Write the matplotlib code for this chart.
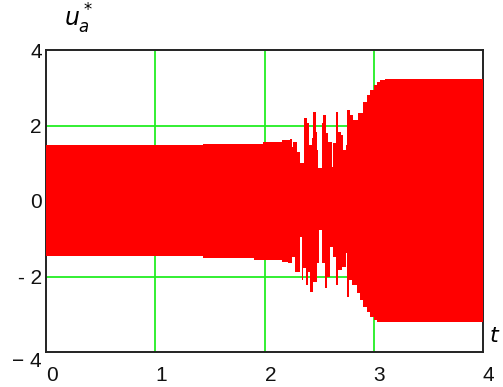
import numpy as np
import matplotlib.pyplot as plt

# envelope of the oscillation (step-wise)
t_up = [0, 1.44, 1.99, 2.157, 2.233, 2.249, 2.264, 2.294, 2.325, 2.365, 2.386, 2.41, 2.432,
        2.447, 2.471, 2.48, 2.493, 2.523, 2.538, 2.56, 2.584, 2.615, 2.63, 2.654, 2.676,
        2.697, 2.722, 2.746, 2.752, 2.783, 2.813, 2.859, 2.904, 2.935, 2.966, 3.0, 3.027,
        3.06, 3.103, 4.0]
u_up = [1.48, 1.50, 1.55, 1.62, 1.65, 1.44, 1.57, 1.31, 1.0, 2.19, 2.06, 1.48, 1.66,
        2.37, 1.84, 1.35, 0.87, 2.06, 2.28, 1.79, 1.57, 0.91, 1.53, 2.37, 1.84,
        1.75, 1.35, 1.48, 2.41, 2.28, 2.15, 2.32, 2.63, 2.80, 2.94, 3.06, 3.16,
        3.20, 3.22, 3.22]

t_lo = [0, 1.44, 1.90, 2.157, 2.218, 2.249, 2.279, 2.325, 2.34, 2.355, 2.38, 2.401, 2.416,
        2.441, 2.477, 2.50, 2.526, 2.554, 2.575, 2.60, 2.63, 2.654, 2.676, 2.706, 2.746,
        2.758, 2.77, 2.798, 2.844, 2.875, 2.904, 2.935, 2.966, 3.0, 3.027, 4.0]
u_lo = [-1.45, -1.52, -1.56, -1.61, -1.65, -1.48, -1.87, -0.95, -2.09, -1.78, -2.23, -1.87, -2.40,
        -2.14, -1.65, -0.77, -1.65, -2.31, -2.0, -1.21, -1.48, -2.23, -1.83, -1.74, -1.39,
        -2.54, -2.09, -2.23, -2.45, -2.62, -2.80, -2.95, -3.06, -3.14, -3.20, -3.20]

xticks = [0, 1, 2, 3, 4]
yticks = [-4, -2, 0, 2, 4]
ylabels = ['\u2212 4', '- 2', '0', '2', '4']

plt.rcParams['font.family'] = ['Liberation Sans', 'DejaVu Sans']

fig = plt.figure(figsize=(5.03, 3.87), dpi=100)
ax = fig.add_axes([46 / 503, 1 - 352 / 387, 437 / 503, 302 / 387])

# common time grid so upper and lower envelopes can be filled together
tt = np.union1d(t_up, t_lo)
iu = np.searchsorted(t_up, tt, side='right') - 1
il = np.searchsorted(t_lo, tt, side='right') - 1
up = np.array(u_up)[iu]
lo = np.array(u_lo)[il]
ax.fill_between(tt, lo, up, step='post', color='#ff0000', linewidth=0, zorder=3)

ax.set_xlim(0, 4)
ax.set_ylim(-4, 4)
ax.set_xticks(xticks)
ax.set_xticklabels([str(v) for v in xticks])
ax.set_yticks(yticks)
ax.set_yticklabels(ylabels)
ax.tick_params(length=0, labelsize=15, colors='#111111')
ax.tick_params(axis='x', pad=10)
ax.tick_params(axis='y', pad=3)
for lab in ax.get_xticklabels():
    lab.set_ha('left')
ax.get_yticklabels()[0].set_va('top')

for v in [1, 2, 3]:
    ax.axvline(v, color='#22ee22', lw=1.3, zorder=1)
for v in [-2, 2]:
    ax.axhline(v, color='#22ee22', lw=1.3, zorder=1)

for s in ax.spines.values():
    s.set_color('#222222')
    s.set_linewidth(1.4)

fig.text(64 / 503, 1 - 36 / 387, r'$u_a^*$', fontsize=17, ha='left', va='bottom')
fig.text(489 / 503, 1 - 347 / 387, r'$t$', fontsize=16, ha='left', va='bottom')

fig.savefig('out.png', dpi=100)
